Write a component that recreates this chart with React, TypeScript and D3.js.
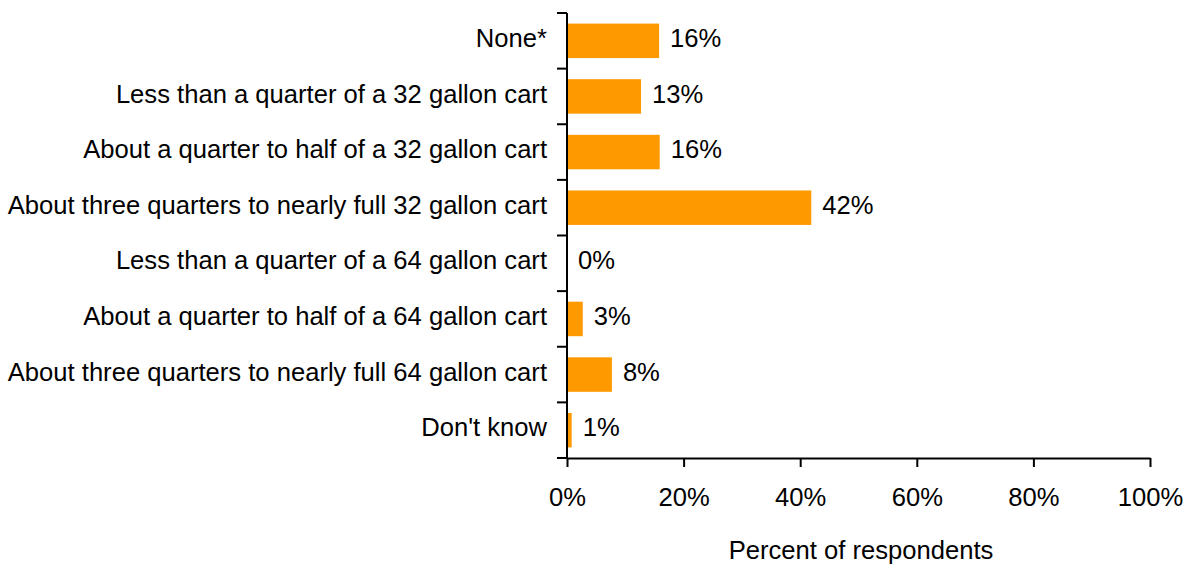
import * as d3 from 'd3';
import React, { useEffect } from 'react';

const categories = [
  'None*',
  'Less than a quarter of a 32 gallon cart',
  'About a quarter to half of a 32 gallon cart',
  'About three quarters to nearly full 32 gallon cart',
  'Less than a quarter of a 64 gallon cart',
  'About a quarter to half of a 64 gallon cart',
  'About three quarters to nearly full 64 gallon cart',
  "Don't know",
];
const values = [15.8, 12.7, 15.9, 41.9, 0, 2.7, 7.7, 0.8];
const valueLabels = ['16%', '13%', '16%', '42%', '0%', '3%', '8%', '1%'];
const xTicks = [0, 20, 40, 60, 80, 100];
const xTitle = 'Percent of respondents';

export default function App() {
  const ref = React.useRef<HTMLDivElement>(null);

  useEffect(() => {
    if (!ref.current) return;
    document.body.style.margin = '0';
    ref.current.innerHTML = '';

    const W = 1193;
    const H = 564;
    const font = '"Liberation Sans", Arial, sans-serif';
    const fs = 25.6;

    const x = d3.scaleLinear().domain([0, 100]).range([567, 1150]);
    const y = d3
      .scaleBand<string>()
      .domain(categories)
      .range([13, 458])
      .paddingInner(0.38)
      .paddingOuter(0.19);

    const svg = d3
      .select(ref.current)
      .append('svg')
      .attr('width', W)
      .attr('height', H)
      .style('display', 'block')
      .style('font-family', font);

    // bars
    svg
      .selectAll('rect.bar')
      .data(values)
      .enter()
      .append('rect')
      .attr('class', 'bar')
      .attr('x', x(0))
      .attr('y', (d, i) => y(categories[i])!)
      .attr('width', d => x(d) - x(0))
      .attr('height', y.bandwidth())
      .attr('fill', '#ff9900');

    // value labels
    svg
      .selectAll('text.val')
      .data(values)
      .enter()
      .append('text')
      .attr('class', 'val')
      .attr('x', d => x(d) + 11)
      .attr('y', (d, i) => y(categories[i])! + y.bandwidth() / 2)
      .attr('dy', '0.24em')
      .attr('font-size', fs)
      .attr('fill', '#000')
      .text((d, i) => valueLabels[i]);

    // category labels
    svg
      .selectAll('text.cat')
      .data(categories)
      .enter()
      .append('text')
      .attr('class', 'cat')
      .attr('x', 547)
      .attr('y', d => y(d)! + y.bandwidth() / 2)
      .attr('dy', '0.24em')
      .attr('text-anchor', 'end')
      .attr('font-size', fs)
      .attr('fill', '#000')
      .text(d => d);

    // y axis with ticks at band boundaries
    const [y0, y1] = y.range();
    svg
      .append('line')
      .attr('x1', x(0))
      .attr('x2', x(0))
      .attr('y1', y0)
      .attr('y2', y1)
      .attr('stroke', '#000')
      .attr('stroke-width', 2);
    const step = y.step();
    svg
      .selectAll('line.ytick')
      .data(d3.range(categories.length + 1))
      .enter()
      .append('line')
      .attr('class', 'ytick')
      .attr('x1', x(0) - 10)
      .attr('x2', x(0))
      .attr('y1', i => y0 + i * step)
      .attr('y2', i => y0 + i * step)
      .attr('stroke', '#000')
      .attr('stroke-width', 2);

    // x axis
    const xAxis = svg
      .append('g')
      .attr('transform', `translate(0,${y1})`)
      .call(
        d3
          .axisBottom(x)
          .tickValues(xTicks)
          .tickSize(9)
          .tickSizeOuter(0)
          .tickPadding(13)
          .tickFormat(d => `${d}%`)
      );
    xAxis.selectAll('path,line').attr('stroke', '#000').attr('stroke-width', 2);
    xAxis
      .selectAll('text')
      .attr('dy', null)
      .attr('y', 48)
      .attr('font-size', fs)
      .attr('font-family', font)
      .attr('fill', '#000');

    svg
      .append('text')
      .attr('x', 861)
      .attr('y', 559)
      .attr('text-anchor', 'middle')
      .attr('font-size', fs)
      .attr('fill', '#000')
      .text(xTitle);
  }, []);

  return <div ref={ref}></div>;
}
